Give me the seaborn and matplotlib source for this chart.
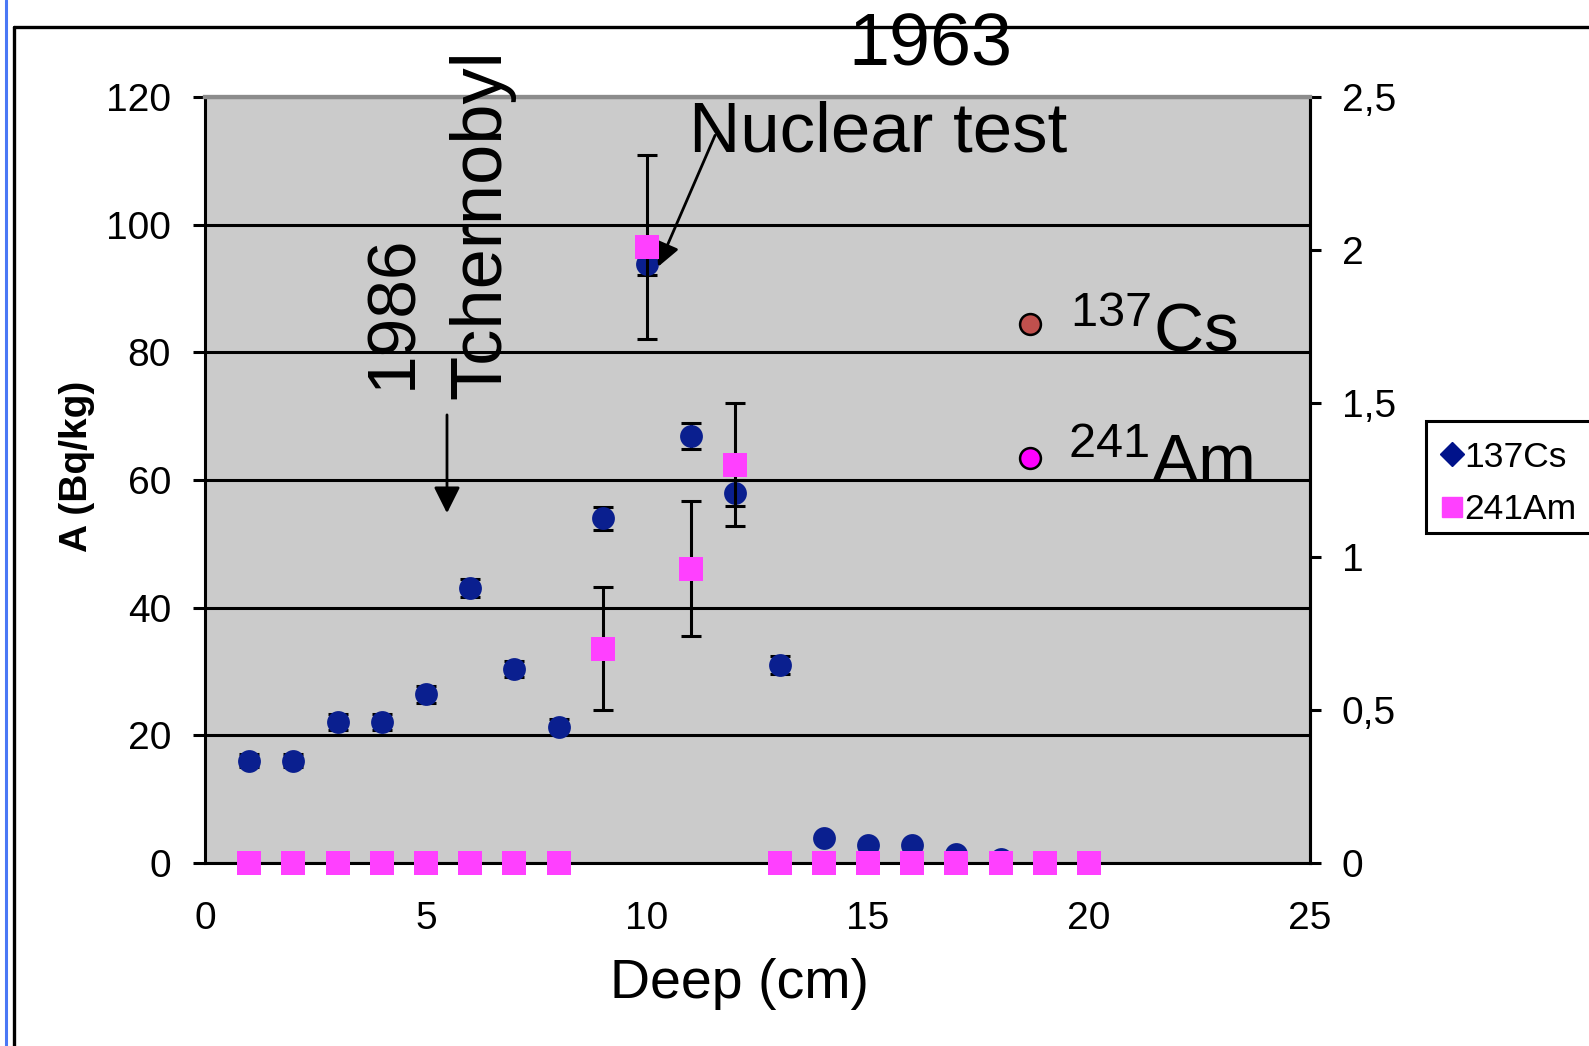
import matplotlib
matplotlib.use("Agg")
import matplotlib.pyplot as plt
import seaborn as sns
import pandas as pd
from matplotlib.lines import Line2D
from matplotlib.patches import Rectangle
from matplotlib.ticker import FuncFormatter

# ---------------- data ----------------
depth_cs = [1, 2, 3, 4, 5, 6, 7, 8, 9, 10, 11, 12, 13, 14, 15, 16, 17, 18]
cs_activity = [16.0, 16.0, 22.1, 22.1, 26.4, 43.1, 30.4, 21.3, 54.0, 93.8,
               66.9, 58.0, 31.0, 3.9, 2.8, 2.8, 1.4, 0.7]
cs_error = [1.0, 1.0, 1.3, 1.3, 1.4, 1.4, 1.3, 1.2, 1.8, 1.7,
            2.0, 2.0, 1.4, 0.5, 0.4, 0.4, 0.3, 0.2]

depth_am = [1, 2, 3, 4, 5, 6, 7, 8, 9, 10, 11, 12, 13, 14, 15, 16, 17, 18, 19, 20]
am_activity = [0, 0, 0, 0, 0, 0, 0, 0, 0.70, 2.01, 0.96, 1.30,
               0, 0, 0, 0, 0, 0, 0, 0]
am_error = [0, 0, 0, 0, 0, 0, 0, 0, 0.20, 0.30, 0.22, 0.20,
            0, 0, 0, 0, 0, 0, 0, 0]

left_ticks = [0, 20, 40, 60, 80, 100, 120]
right_ticks = [0, 0.5, 1, 1.5, 2, 2.5]
x_ticks = [0, 5, 10, 15, 20, 25]

df_cs = pd.DataFrame({"Deep": depth_cs, "Cs": cs_activity, "err": cs_error})
df_am = pd.DataFrame({"Deep": depth_am, "Am": am_activity, "err": am_error})

# ---------------- style ----------------
sns.set_style("white")
plt.rcParams["font.family"] = ["Liberation Sans", "DejaVu Sans"]
plt.rcParams["mathtext.fontset"] = "custom"
plt.rcParams["mathtext.rm"] = "Liberation Sans"
plt.rcParams["mathtext.it"] = "Liberation Sans"
for key in ("text.color", "axes.labelcolor", "xtick.color", "ytick.color"):
    plt.rcParams[key] = "black"

CS_COL = "#0a1f8f"
AM_COL = "#ff40ff"
BG = "#cbcbcb"
LW = 2.2

W, H = 1589, 1046
fig = plt.figure(figsize=(W / 100, H / 100), dpi=100)
fig.patch.set_facecolor("white")

AX_L, AX_R, AX_T, AX_B = 205, 1310, 97, 863
ax = fig.add_axes([AX_L / W, 1 - AX_B / H, (AX_R - AX_L) / W, (AX_B - AX_T) / H])
ax.set_facecolor(BG)

# gridlines
ax.set_axisbelow(True)
ax.yaxis.grid(True, color="black", lw=LW)
ax.xaxis.grid(False)

# Cs error bars + markers
ax.errorbar(df_cs["Deep"], df_cs["Cs"], yerr=df_cs["err"], fmt="none",
            ecolor="black", elinewidth=LW, capsize=7, capthick=LW, zorder=2)
sns.scatterplot(data=df_cs, x="Deep", y="Cs", ax=ax, marker="o", s=270,
                color=CS_COL, linewidth=0, zorder=3, legend=False)

ax.set_xlim(0, 25)
ax.set_ylim(0, 120)
ax.set_xticks(x_ticks)
ax.set_yticks(left_ticks)

# secondary axis for Am
ax2 = ax.twinx()
ax2.patch.set_visible(False)
ax2.errorbar(df_am["Deep"], df_am["Am"], yerr=df_am["err"], fmt="none",
             ecolor="black", elinewidth=LW, capsize=7, capthick=LW, zorder=2)
sns.scatterplot(data=df_am, x="Deep", y="Am", ax=ax2, marker="s", s=280,
                color=AM_COL, linewidth=0, zorder=3, legend=False,
                clip_on=False)
ax2.set_ylim(0, 2.5)
ax2.set_yticks(right_ticks)
ax2.yaxis.set_major_formatter(FuncFormatter(
    lambda v, p: (f"{v:g}").replace(".", ",")))
ax2.set_ylabel("")
ax2.set_xlim(0, 25)

# spines
for a in (ax, ax2):
    for s in a.spines.values():
        s.set_linewidth(LW)
        s.set_color("black")
    a.spines["top"].set_color("#8c8c8c")
    a.spines["top"].set_linewidth(3)
ax2.spines["left"].set_visible(False)
ax2.spines["bottom"].set_visible(False)

ax.tick_params(axis="both", direction="out", length=8.5, width=LW,
               color="black", labelcolor="black", labelsize=28, pad=16)
ax.tick_params(axis="x", pad=19)
ax2.tick_params(axis="y", direction="out", length=8, width=LW,
                color="black", labelcolor="black", labelsize=28, pad=15)

# axis labels
ax.set_xlabel("Deep (cm)", fontsize=40, color="black")
ax.xaxis.set_label_coords((739 - AX_L) / (AX_R - AX_L), (AX_B - 958) / (AX_B - AX_T))
ax.set_ylabel("A (Bq/kg)", fontsize=28, fontweight="bold", color="black")
ax.yaxis.set_label_coords((95 - AX_L) / (AX_R - AX_L), 0.518)


def fx(px):
    return px / W


def fy(py):
    return 1 - py / H


# annotations
fig.text(fx(930), fy(66), "1963", fontsize=53, ha="center", va="baseline")
fig.text(fx(689), fy(152), "Nuclear test", fontsize=51, ha="left", va="baseline")
fig.text(fx(393), fy(312), "1986", fontsize=50, rotation=90, ha="center", va="center")
fig.text(fx(482), fy(224), "Tchernobyl", fontsize=52, rotation=90, ha="center", va="center")

ax.annotate("", xy=(5.475, 54.8), xytext=(5.475, 70.2),
            arrowprops=dict(arrowstyle="-|>", lw=2, color="black",
                            mutation_scale=40, shrinkA=0, shrinkB=0))
ax.annotate("", xy=(10.25, 93.4), xytext=(11.54, 114.0),
            arrowprops=dict(arrowstyle="-|>", lw=2, color="black",
                            mutation_scale=36, shrinkA=0, shrinkB=0))


def axf(px, py):
    return (px - AX_L) / (AX_R - AX_L), (AX_B - py) / (AX_B - AX_T)


# in-plot isotope key
cx, cy = axf(1030, 324)
ax.plot([cx], [cy], marker="o", ms=15, mfc="#c0504d", mec="black", mew=1.8,
        transform=ax.transAxes, clip_on=False, zorder=5)
cx, cy = axf(1030, 458)
ax.plot([cx], [cy], marker="o", ms=15, mfc="#ff00ff", mec="black", mew=1.8,
        transform=ax.transAxes, clip_on=False, zorder=5)
tx, ty = axf(1070, 352)
ax.text(tx, ty, r"$^{137}\mathrm{Cs}$", fontsize=50, transform=ax.transAxes,
        ha="left", va="baseline")
tx, ty = axf(1068, 483)
ax.text(tx, ty, r"$^{241}\mathrm{Am}$", fontsize=50, transform=ax.transAxes,
        ha="left", va="baseline")

# legend on the right (frame drawn separately so it runs off the edge)
fig.add_artist(Rectangle((fx(1426), fy(533)), 1 - fx(1426) + 0.01,
                         fy(421) - fy(533), transform=fig.transFigure,
                         facecolor="white", edgecolor="black", lw=LW,
                         clip_on=False))
handles = [Line2D([], [], ls="none", marker="D", ms=12, color="#00128a"),
           Line2D([], [], ls="none", marker="s", ms=14, color=AM_COL)]
leg = fig.legend(handles, ["137Cs", "241Am"], loc="upper left",
                 bbox_to_anchor=(fx(1431), fy(430)), frameon=False,
                 prop={"size": 25.5}, handlelength=0.6,
                 handletextpad=0.05, borderpad=0.3, labelspacing=0.55,
                 borderaxespad=0)

# outer frame & window edge
fig.add_artist(Line2D([fx(14), fx(14)], [fy(27), 0], color="black", lw=2.4,
                      transform=fig.transFigure))
fig.add_artist(Line2D([fx(14), 1], [fy(27), fy(27)], color="black", lw=2.4,
                      transform=fig.transFigure))
fig.add_artist(Line2D([fx(5.5), fx(5.5)], [0, 1], color="#4a78f5", lw=2.2,
                      transform=fig.transFigure))

fig.savefig("out.png", dpi=100)
